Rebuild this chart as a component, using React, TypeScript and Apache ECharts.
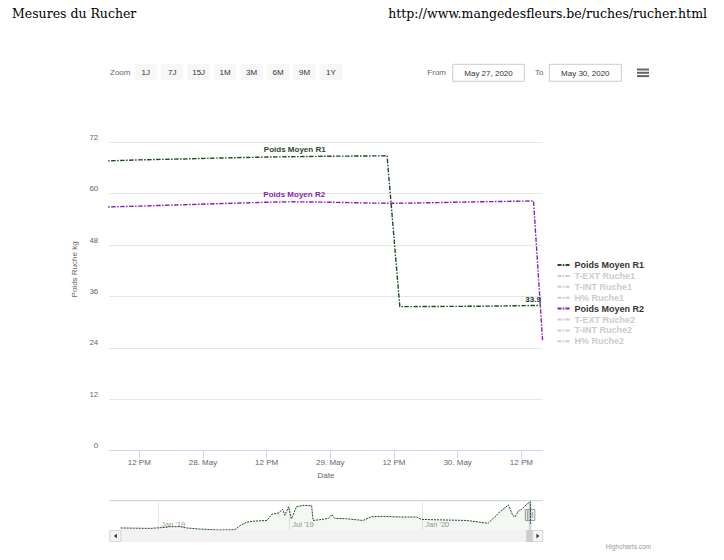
import React, { useEffect, useRef } from 'react';
import * as echarts from 'echarts';

const FONT = 'Liberation Sans, Arial, Helvetica, sans-serif';
const SERIF = 'DejaVu Serif, serif';
const GREEN = '#1f4a1f';
const PURPLE = '#8a1db2';
const DASH_DOT = [4.5, 1.5, 1.5, 1.5];

const pageTitle = 'Mesures du Rucher';
const pageUrl = 'http://www.mangedesfleurs.be/ruches/rucher.html';
const zoomButtons = ['1J', '7J', '15J', '1M', '3M', '6M', '9M', '1Y'];
const fromDate = 'May 27, 2020';
const toDate = 'May 30, 2020';
const credits = 'Highcharts.com';

// main chart x values: hours since 2020-05-27 00:00
const viewStartHour = 6.35;
const viewEndHour = 88.03;
const xTickHours = [12, 24, 36, 48, 60, 72, 84];
const xTickLabels = ['12 PM', '28. May', '12 PM', '29. May', '12 PM', '30. May', '12 PM'];

const r1Hours = [5, 12, 20, 28, 36, 41.3, 48, 54, 58.7, 61.1, 68, 76, 82, 87.7];
const r1Values = [67.6, 67.9, 68.1, 68.35, 68.55, 68.65, 68.75, 68.8, 68.85, 33.6, 33.65, 33.7, 33.8, 33.9];
const r2Hours = [5, 12, 20, 28, 36, 41.2, 48, 56, 60, 68, 76, 84, 86.3, 88.0];
const r2Values = [56.85, 57.1, 57.4, 57.7, 58.0, 58.1, 58.0, 57.8, 57.75, 57.9, 58.1, 58.25, 58.3, 25.8];
const r1NameLabelHour = 41.3;
const r2NameLabelHour = 41.2;

const legendNames = ['Poids Moyen R1', 'T-EXT Ruche1', 'T-INT Ruche1', 'H% Ruche1', 'Poids Moyen R2', 'T-EXT Ruche2', 'T-INT Ruche2', 'H% Ruche2'];
const hiddenNames = ['T-EXT Ruche1', 'T-INT Ruche1', 'H% Ruche1', 'T-EXT Ruche2', 'T-INT Ruche2', 'H% Ruche2'];

// navigator (full history of Poids Moyen R1)
const navDates = ['2018-11-10', '2018-12-20', '2019-01-12', '2019-01-17', '2019-01-31', '2019-02-09', '2019-02-27', '2019-03-27', '2019-04-17', '2019-04-24', '2019-05-03', '2019-05-12', '2019-05-31', '2019-06-07', '2019-06-16', '2019-06-22', '2019-06-25', '2019-06-30', '2019-07-04', '2019-07-11', '2019-07-20', '2019-08-01', '2019-08-03', '2019-08-12', '2019-08-24', '2019-08-29', '2019-09-02', '2019-09-18', '2019-10-11', '2019-10-23', '2019-11-08', '2019-12-01', '2019-12-24', '2019-12-31', '2020-01-16', '2020-03-02', '2020-04-01', '2020-04-10', '2020-04-17', '2020-04-29', '2020-05-05', '2020-05-08', '2020-05-13', '2020-05-17', '2020-05-26', '2020-05-29T10:00Z', '2020-05-29T15:00Z', '2020-05-30T16:00Z'];
const navValues = [26.5, 25.8, 27.5, 28.6, 28.6, 26.5, 24.8, 23.2, 23.7, 30.3, 35.8, 37.4, 38.6, 48.6, 50.7, 56.4, 46.9, 60.7, 41.4, 60.7, 63, 62.3, 38.6, 39.8, 41.9, 48.1, 41.9, 41.4, 38.6, 44.7, 45.2, 44.1, 44.1, 40.3, 39.8, 38.6, 34.1, 44.1, 52.4, 63.5, 46.9, 44.1, 54, 56.4, 66.3, 68.85, 33.6, 33.9];
const navTickDates = ['2019-01-01', '2019-07-01', '2020-01-01'];
const navTickLabels = ["Jan '19", "Jul '19", "Jan '20"];
const viewStartDate = '2020-05-27';

const BASE = Date.parse('2019-01-01');
const dayOf = (s: string) => (Date.parse(s) - BASE) / 86400000;
const navDays = navDates.map(dayOf);
const navTickDays = navTickDates.map(dayOf);
const viewDay0 = dayOf(viewStartDate);
const navSelStart = viewDay0 + viewStartHour / 24;
const navSelEnd = viewDay0 + viewEndHour / 24;

function seriesData(hours: number[], values: number[], nameHour: number, name: string, color: string, lastLabel: boolean) {
  return hours.map((h, i) => {
    const item: any = { value: [h, values[i]] };
    if (h === nameHour) {
      item.label = { show: true, position: 'top', distance: 3, formatter: name, color, fontSize: 8, fontWeight: 'bold', fontFamily: FONT };
    }
    if (lastLabel && i === hours.length - 1) {
      item.label = { show: true, position: 'top', align: 'right', distance: 2, formatter: String(values[i]), color: '#1a331a', fontSize: 8, fontWeight: 'bold', fontFamily: FONT };
    }
    return item;
  });
}

function buildGraphics(h0: number, h1: number) {
  const els: any[] = [];
  const txt = (x: number, y: number, text: string, opts: any = {}) => ({
    type: 'text', x, y, silent: true,
    style: { text, fill: '#666', fontSize: 8, fontFamily: FONT, align: 'left', verticalAlign: 'middle', ...opts },
  });
  els.push(txt(12, 13, pageTitle, { fontFamily: SERIF, fontSize: 12.5, fill: '#000' }));
  els.push(txt(707, 13, pageUrl, { fontFamily: SERIF, fontSize: 12.5, fill: '#000', align: 'right' }));
  els.push(txt(110, 72, 'Zoom'));
  zoomButtons.forEach((b, i) => {
    const x = 134.7 + i * 26.47;
    els.push({ type: 'rect', silent: true, shape: { x, y: 63.8, width: 22, height: 16.5 }, style: { fill: '#f7f7f7' } });
    els.push(txt(x + 11, 72, b, { align: 'center', fill: '#333' }));
  });
  els.push(txt(446, 72.5, 'From', { align: 'right' }));
  els.push({ type: 'rect', silent: true, shape: { x: 452.7, y: 64.3, width: 71.6, height: 17 }, style: { fill: '#fff', stroke: '#cccccc', lineWidth: 1 } });
  els.push(txt(488.5, 73, fromDate, { align: 'center', fill: '#333' }));
  els.push(txt(543.5, 72.5, 'To', { align: 'right' }));
  els.push({ type: 'rect', silent: true, shape: { x: 549.3, y: 64.3, width: 72, height: 17 }, style: { fill: '#fff', stroke: '#cccccc', lineWidth: 1 } });
  els.push(txt(585.3, 73, toDate, { align: 'center', fill: '#333' }));
  [69.5, 72.8, 76.1].forEach((y) => {
    els.push({ type: 'line', silent: true, shape: { x1: 637, y1: y, x2: 649, y2: y }, style: { stroke: '#666', lineWidth: 2 } });
  });
  els.push(txt(651, 546, credits, { align: 'right', fill: '#999', fontSize: 6.5 }));
  // navigator outline
  els.push({ type: 'line', silent: true, shape: { x1: 109.3, y1: 500.7, x2: 542.7, y2: 500.7 }, style: { stroke: '#cccccc', lineWidth: 1 } });
  // scrollbar
  els.push({ type: 'rect', silent: true, shape: { x: 109.3, y: 530, width: 433.4, height: 12 }, style: { fill: '#f2f2f2' } });
  els.push({ type: 'rect', silent: true, shape: { x: 109.8, y: 530.5, width: 11, height: 11 }, style: { fill: '#f4f4f4', stroke: '#cccccc', lineWidth: 0.7 } });
  els.push({ type: 'polygon', silent: true, shape: { points: [[116.8, 533.8], [116.8, 538.2], [113.8, 536]] }, style: { fill: '#333' } });
  els.push({ type: 'rect', silent: true, shape: { x: 526.2, y: 530, width: 6.5, height: 12 }, style: { fill: '#cccccc' } });
  els.push({ type: 'rect', silent: true, shape: { x: 532.7, y: 530.5, width: 10, height: 11 }, style: { fill: '#f4f4f4', stroke: '#cccccc', lineWidth: 0.7 } });
  els.push({ type: 'polygon', silent: true, shape: { points: [[536.4, 533.8], [536.4, 538.2], [539.4, 536]] }, style: { fill: '#333' } });
  // handles
  [h0, h1].forEach((hx) => {
    els.push({ type: 'rect', silent: true, shape: { x: hx - 3.5, y: 509.5, width: 7, height: 11 }, style: { fill: '#f2f2f2', stroke: '#999', lineWidth: 1 } });
    els.push({ type: 'line', silent: true, shape: { x1: hx - 1, y1: 512, x2: hx - 1, y2: 518 }, style: { stroke: '#999', lineWidth: 1 } });
    els.push({ type: 'line', silent: true, shape: { x1: hx + 1, y1: 512, x2: hx + 1, y2: 518 }, style: { stroke: '#999', lineWidth: 1 } });
  });
  return els;
}

const selected: Record<string, boolean> = {};
hiddenNames.forEach((n) => (selected[n] = false));

const option: any = {
  animation: false,
  textStyle: { fontFamily: FONT },
  grid: [
    { left: 109.3, top: 142.3, width: 433.4, height: 308.2 },
    { left: 120.7, top: 501.7, width: 410.6, height: 28.3 },
  ],
  legend: {
    orient: 'vertical', left: 557.5, top: 260, padding: 0, data: legendNames, selected,
    icon: 'path://M0,0h5v2h-5z M6.5,0h2v2h-2z M10,0h5v2h-5z',
    itemWidth: 12, itemHeight: 2, symbolKeepAspect: false, itemGap: 0.9,
    itemStyle: { borderWidth: 0 },
    inactiveColor: '#cccccc',
    textStyle: { fontSize: 9, fontWeight: 'bold', color: '#333', lineHeight: 10, fontFamily: FONT },
  },
  xAxis: [
    {
      type: 'value', gridIndex: 0, min: viewStartHour, max: viewEndHour,
      name: 'Date', nameLocation: 'middle', nameGap: 21, nameTextStyle: { color: '#666', fontSize: 8 },
      axisLine: { show: true, lineStyle: { color: '#ccd6eb' } },
      axisTick: { show: true, length: 8, lineStyle: { color: '#ccd6eb' }, customValues: xTickHours },
      axisLabel: { customValues: xTickHours, formatter: (v: number) => { const i = xTickHours.indexOf(v); return i >= 0 ? xTickLabels[i] : ''; }, color: '#666', fontSize: 8, margin: 7.5 },
      splitLine: { show: false },
    },
    {
      type: 'value', gridIndex: 1, min: navDays[0], max: navDays[navDays.length - 1],
      axisLine: { show: false },
      axisTick: { show: false, customValues: navTickDays },
      axisLabel: { inside: true, customValues: navTickDays, formatter: (v: number) => { const i = navTickDays.indexOf(v); return i >= 0 ? navTickLabels[i] : ''; }, align: 'left', color: '#999', fontSize: 7.5, margin: 2, padding: [0, 0, 0, 3] },
      splitLine: { show: true, lineStyle: { color: '#e6e6e6' } },
    },
  ],
  yAxis: [
    {
      type: 'value', gridIndex: 0, min: 0, max: 72, interval: 12,
      name: 'Poids Ruche kg', nameLocation: 'middle', nameGap: 21, nameRotate: 90,
      nameTextStyle: { color: '#666', fontSize: 8, padding: [0, 0, 0, 54] },
      axisLabel: { color: '#666', fontSize: 8, margin: 11, verticalAlign: 'bottom', lineHeight: 10 },
      splitLine: { lineStyle: { color: '#e6e6e6' } },
      axisLine: { show: false }, axisTick: { show: false },
    },
    { type: 'value', gridIndex: 1, min: 'dataMin', max: 'dataMax', show: false, splitLine: { show: false } },
  ],
  series: [
    {
      name: 'Poids Moyen R1', type: 'line', xAxisIndex: 0, yAxisIndex: 0,
      data: seriesData(r1Hours, r1Values, r1NameLabelHour, 'Poids Moyen R1', GREEN, true),
      symbol: 'circle', symbolSize: 0, showSymbol: true, showAllSymbol: true,
      lineStyle: { color: GREEN, width: 1.4, type: DASH_DOT }, itemStyle: { color: GREEN },
    },
    ...hiddenNames.slice(0, 3).map((n) => ({ name: n, type: 'line', data: [], itemStyle: { color: '#999' } })),
    {
      name: 'Poids Moyen R2', type: 'line', xAxisIndex: 0, yAxisIndex: 0,
      data: seriesData(r2Hours, r2Values, r2NameLabelHour, 'Poids Moyen R2', PURPLE, false),
      symbol: 'circle', symbolSize: 0, showSymbol: true, showAllSymbol: true,
      lineStyle: { color: PURPLE, width: 1.4, type: DASH_DOT }, itemStyle: { color: PURPLE },
    },
    ...hiddenNames.slice(3).map((n) => ({ name: n, type: 'line', data: [], itemStyle: { color: '#999' } })),
    {
      name: 'navigator', type: 'line', xAxisIndex: 1, yAxisIndex: 1,
      data: navDays.map((d, i) => [d, navValues[i]]),
      symbol: 'none', silent: true,
      lineStyle: { color: GREEN, width: 1, type: [2, 1] },
      areaStyle: { color: 'rgba(31,74,31,0.06)' },
      markArea: { silent: true, itemStyle: { color: 'rgba(102,133,194,0.3)' }, data: [[{ xAxis: navSelStart }, { xAxis: navSelEnd }]] },
    },
  ],
};

export default function App() {
  const ref = useRef<HTMLDivElement>(null);
  useEffect(() => {
    document.body.style.margin = '0';
    const chart = echarts.init(ref.current!, null, { renderer: 'svg' });
    chart.setOption(option);
    const h0 = chart.convertToPixel({ xAxisIndex: 1 }, navSelStart) as number;
    const h1 = chart.convertToPixel({ xAxisIndex: 1 }, navSelEnd) as number;
    chart.setOption({ graphic: buildGraphics(h0, h1) });
    return () => chart.dispose();
  }, []);
  return <div ref={ref} style={{ width: 724, height: 560 }} />;
}
